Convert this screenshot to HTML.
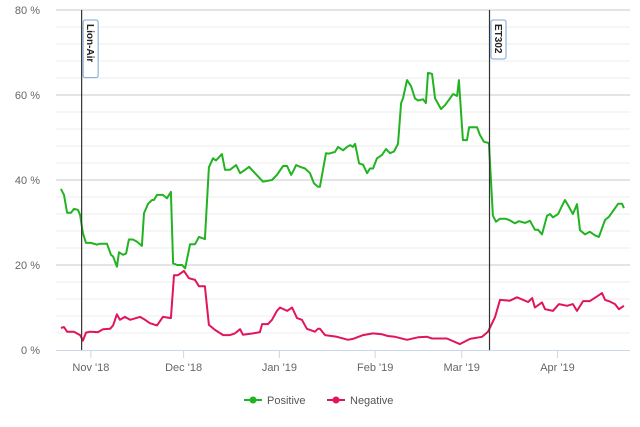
<!DOCTYPE html>
<html><head><meta charset="utf-8"><style>
body{margin:0;background:#fff;}
svg{display:block;font-family:"Liberation Sans",sans-serif;}
</style></head><body>
<svg id="chart" width="640" height="427" viewBox="0 0 640 427">
<g id="grid"></g>
<g id="yaxis"></g>
<g id="xaxis"></g>
<g id="series"></g>
<g id="events"></g>
<g id="legend">
  <g>
    <line x1="244" y1="400" x2="262" y2="400" stroke="#22b322" stroke-width="2"/>
    <circle cx="253" cy="400" r="3.5" fill="#22b322"/>
    <text x="267" y="404" font-size="11" fill="#555">Positive</text>
  </g>
  <g>
    <line x1="327" y1="400" x2="345" y2="400" stroke="#e0145f" stroke-width="2"/>
    <circle cx="336" cy="400" r="3.5" fill="#e0145f"/>
    <text x="350" y="404" font-size="11" fill="#555">Negative</text>
  </g>
</g>
</svg>
<script>
// days since 2018-10-22
const posDays=[0.3,1.3,2.3,3.6,4.5,5.8,6.5,7.4,8.4,10,12,12.9,15.2,16.5,17.2,18.4,19.1,20.4,21.4,22.3,23.6,24.9,26.5,27.2,28.5,29.8,30.4,31.4,33.3,34.6,35.9,36.6,37.9,39.5,40.5,42.1,43.7,45,46.9,48.2,49.5,50.5,52.4,53.4,55,57,58.3,59.9,61.2,63.1,65.7,68.6,70.2,72.2,73.5,74.8,75.7,76.4,77.7,79.3,80.9,82.2,83.5,84.1,86.1,87.1,89,90,91.6,92.9,93.9,94.8,95.5,96.8,98.1,99.4,100.3,101.3,102.6,104.2,105.5,106.8,108.1,109.4,110.4,111,112.3,113.6,114.9,115.9,117.5,118.4,119.1,120.4,121.4,123.3,124.6,126.2,127.2,128.5,129.1,130.4,131.7,132.4,135,135.9,137.2,138.8,140.1,141.1,142.4,144,145.3,147.2,148.5,150.5,152.1,153.7,154.7,156,157.6,158.6,159.5,161.2,163.4,164.4,166,167.3,168.3,169.9,171.5,173.1,174.4,176.4,177.7,180.6,181.9,182.5];
const posVals=[37.9,36.5,32.3,32.3,33.2,33,31.8,27.5,25.2,25.2,24.8,25,25,22.4,22,19.6,23,22.4,22.7,26,26,25.5,24.5,32.2,34.4,35.3,35.3,36.5,36.5,35.7,37.2,20.4,20,20,19.2,24.9,24.9,26.6,26.1,43,45.1,44.6,46.1,42.4,42.4,43.5,41.6,42.4,43.1,41.6,39.6,40,41.2,43.3,43.3,41.2,42.4,43.5,43.1,42.7,41.6,39.2,38.4,38.4,46.3,46.2,46.6,47.8,47,47.8,48.2,47.8,48.5,43.9,43.6,41.6,42.7,42.7,45.1,45.9,47.3,46.3,46.7,48.5,58.1,59.2,63.5,62.1,59.2,58.7,59,58.1,65.2,65,59.2,56.7,57.6,59.2,60.2,59.8,63.5,49.4,49.4,52.4,52.4,50.6,49,48.7,31.6,30.2,30.9,30.9,30.6,29.8,30.3,29.9,30.4,28.3,28.3,27.2,31.6,32,31.2,32,35.3,34.1,32,34.3,28.2,27.2,27.8,27,26.6,30.6,31.4,34.4,34.4,33.4];
const negDays=[0.3,1.3,2.3,4.5,6.5,7.4,8.4,9.7,12.3,13.9,16.2,17.2,18.4,19.4,21,22.7,25.9,27.5,29.1,31.4,33.3,35.9,36.9,38.2,40.1,41.7,43.7,45,46.9,48.2,50.2,52.8,55,56.6,58.3,59.2,62.5,64.7,65.4,67.3,68.6,70.2,71.2,73.5,75.1,76.7,78.3,79.9,82.5,83.5,84.1,85.8,89.6,93.2,94.8,98.1,101.3,104.2,106.1,108.4,112.3,115.9,118.8,120.4,125.2,129.4,132.7,136.6,138.5,140.8,142.4,145.6,147.9,151.5,152.8,153.7,156,157,159.5,161.5,164.1,166,167.3,169.3,171.5,173.8,175.4,176.4,178,179.6,180.9,182.5];
const negVals=[5.2,5.4,4.3,4.3,3.5,2.2,4.1,4.3,4.2,4.9,5,5.8,8.4,7.1,7.8,7.1,7.8,7.1,6.3,5.8,7.8,7.5,17.6,17.6,18.6,16.9,16.5,15,15,5.9,4.7,3.5,3.5,3.9,4.9,3.6,3.9,4.2,6.1,6.1,7.1,9.2,10,9.2,10,7.5,7.1,5,4.3,5,5,3.5,3.1,2.4,2.6,3.5,3.9,3.7,3.3,3.1,2.4,3,3.1,2.7,2.7,1.4,2.6,3.1,4.3,7.8,11.8,11.6,12.4,11.3,12.2,10,11.2,9.6,9.2,10.8,10.4,10.8,9.2,11.5,11.5,12.6,13.4,11.8,11.4,10.8,9.6,10.4];
const yTicks=[0,20,40,60,80];
const yTickLabels=["0 %","20 %","40 %","60 %","80 %"];
const xTickDays=[10,40,71,102,130,161];
const xTickLabels=["Nov '18","Dec '18","Jan '19","Feb '19","Mar '19","Apr '19"];
const eventDays=[7,139];
const eventLabels=["Lion-Air","ET302"];

const NS="http://www.w3.org/2000/svg";
const X=d=>60+d*3.09;
const Y=v=>350-v*4.25;
function mk(tag,attrs,parent){const e=document.createElementNS(NS,tag);for(const k in attrs)e.setAttribute(k,attrs[k]);parent.appendChild(e);return e;}
const grid=document.getElementById('grid'),ya=document.getElementById('yaxis'),xa=document.getElementById('xaxis'),se=document.getElementById('series'),ev=document.getElementById('events');
for(let v=4;v<80;v+=4){if(v%20===0)continue;const l=mk('line',{x1:56,x2:630,y1:Y(v),y2:Y(v),stroke:'#ececec','stroke-width':1},grid);

}
yTicks.forEach((v,i)=>{
 if(v>0){const l=mk('line',{x1:56,x2:630,y1:Y(v),y2:Y(v),stroke:'#c8c8c8','stroke-width':1},grid);
 
 }
 const t=mk('text',{x:40,y:Y(v)+4,'text-anchor':'end','font-size':11,fill:'#666'},ya);t.textContent=yTickLabels[i];
 
 
});
const base=mk('line',{x1:56,x2:630,y1:350.5,y2:350.5,stroke:'#ccd6eb','stroke-width':1},xa);


xTickDays.forEach((d,i)=>{
 const tk=mk('line',{x1:X(d),x2:X(d),y1:350,y2:358,stroke:'#ccd6eb'},xa);
 
 
 const t=mk('text',{x:X(d),y:371,'text-anchor':'middle','font-size':11,fill:'#666'},xa);t.textContent=xTickLabels[i];
 
 
});
function line(days,vals,color,name){
 const p=mk('path',{d:days.map((d,i)=>(i?'L':'M')+X(d).toFixed(1)+' '+Y(vals[i]).toFixed(1)).join(''),fill:'none',stroke:color,'stroke-width':2,'stroke-linejoin':'round'},se);
 
 
}
line(posDays,posVals,'#22b322','positive-line');
line(negDays,negVals,'#e0145f','negative-line');
eventDays.forEach((d,i)=>{
 const x=X(d);
 const l=mk('line',{x1:x,x2:x,y1:10,y2:350,stroke:'#333','stroke-width':1.2},ev);
 
 
 const h=eventLabels[i].length*6.2+8;
 const r=mk('rect',{x:x+1.5,y:20,width:15,height:h,rx:2,fill:'#fff',stroke:'#7aa6d6','stroke-width':1},ev);
 
 
 const t=mk('text',{x:0,y:0,'font-size':10,'font-weight':'bold',fill:'#222',transform:`translate(${x+5.5},24) rotate(90)`},ev);
 t.textContent=eventLabels[i];
 
 
});
</script>
</body></html>
